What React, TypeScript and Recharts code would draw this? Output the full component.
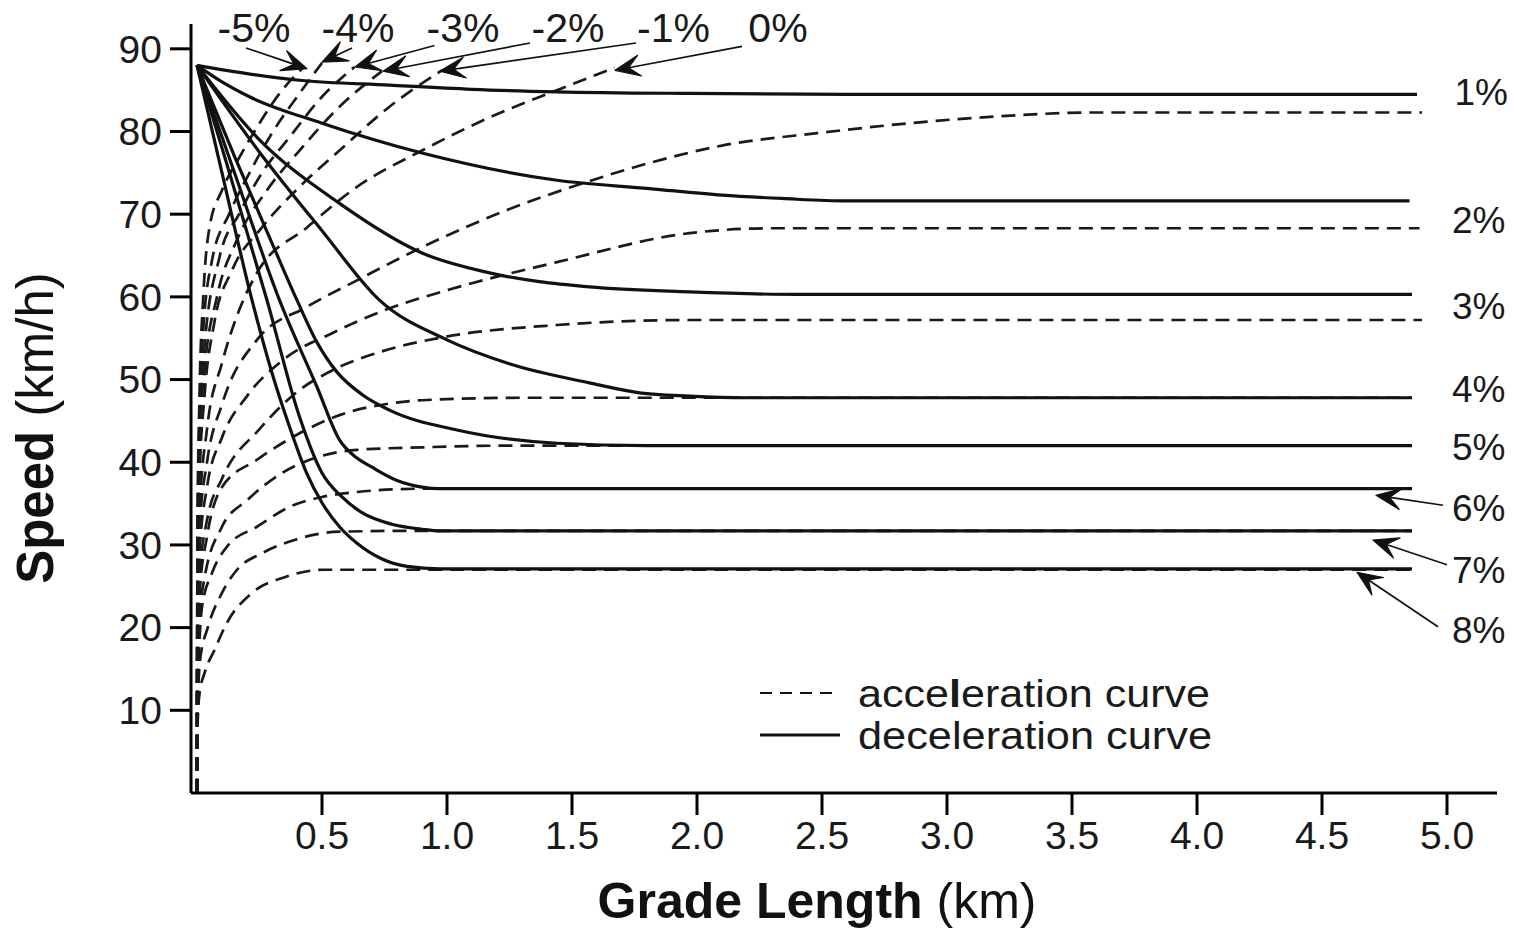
import React from 'react';
import { LineChart, Line, XAxis, YAxis, ReferenceLine, ReferenceDot, Legend } from 'recharts';

type P = [number, number];

// ---------- axis ticks ----------
const xTicks = [0.5, 1.0, 1.5, 2.0, 2.5, 3.0, 3.5, 4.0, 4.5, 5.0];
const yTicks = [10, 20, 30, 40, 50, 60, 70, 80, 90];

// ---------- deceleration curves (solid) [km, km/h] ----------
const decel1: P[] = [[0, 88], [0.2, 87], [0.41, 86.2], [0.77, 85.6], [1.1, 85.1], [1.44, 84.8], [1.97, 84.6], [2.6, 84.5], [4.88, 84.5]];
const decel2: P[] = [[0, 88], [0.1, 86], [0.21, 84.2], [0.5, 81], [0.9, 77.4], [1.44, 74.1], [1.81, 73.1], [2.1, 72.3], [2.34, 71.9], [2.6, 71.6], [4.85, 71.6]];
const decel3: P[] = [[0, 88], [0.24, 79.3], [0.57, 71.3], [0.9, 65.3], [1.17, 62.9], [1.57, 61.2], [1.97, 60.6], [2.4, 60.3], [4.86, 60.3]];
const decel4: P[] = [[0, 88], [0.25, 77.5], [0.5, 68], [0.73, 59.6], [1.0, 54.8], [1.24, 52.0], [1.57, 49.6], [1.77, 48.4], [1.97, 48.0], [2.2, 47.8], [4.86, 47.8]];
const decel5: P[] = [[0, 88], [0.15, 77], [0.3, 66.5], [0.4, 59.6], [0.48, 54.5], [0.56, 50.9], [0.66, 48.2], [0.77, 46.3], [1.04, 43.9], [1.44, 42.3], [1.8, 42.0], [4.86, 42.0]];
const decel6: P[] = [[0, 88], [0.15, 75], [0.33, 59.6], [0.48, 49.1], [0.57, 42.7], [0.64, 40.5], [0.7, 39.4], [0.8, 37.8], [0.9, 37.0], [0.97, 36.8], [4.86, 36.8]];
const decel7: P[] = [[0, 88], [0.12, 76], [0.28, 59.6], [0.41, 45.5], [0.5, 38.7], [0.58, 35.8], [0.66, 33.9], [0.78, 32.5], [0.9, 31.9], [0.97, 31.7], [4.86, 31.7]];
const decel8: P[] = [[0, 88], [0.1, 75], [0.22, 59.6], [0.3, 50.8], [0.37, 44.3], [0.44, 38.6], [0.5, 35.1], [0.57, 32.2], [0.64, 30.2], [0.74, 28.3], [0.84, 27.4], [0.97, 27.1], [4.86, 27.1]];

// ---------- acceleration curves (dashed) [km, km/h] ----------
const accM5: P[] = [[0, 0], [0.002, 32], [0.01, 48], [0.025, 60], [0.05, 68.4], [0.1, 72.9], [0.17, 76.9], [0.25, 81], [0.33, 84.6], [0.43, 87.9]];
const accM4: P[] = [[0, 0], [0.002, 30], [0.01, 45], [0.025, 56], [0.06, 64.4], [0.13, 70.1], [0.21, 75], [0.3, 79.8], [0.41, 84.6], [0.5, 88.3]];
const accM3: P[] = [[0, 0], [0.002, 28], [0.01, 42], [0.03, 54], [0.09, 64.8], [0.17, 70.1], [0.26, 75], [0.37, 79.3], [0.5, 84.2], [0.63, 87.8]];
const accM2: P[] = [[0, 0], [0.002, 27], [0.01, 40], [0.03, 51], [0.08, 60], [0.16, 66.9], [0.28, 72.9], [0.41, 77.7], [0.57, 83], [0.74, 87.3]];
const accM1: P[] = [[0, 0], [0.002, 25], [0.01, 38], [0.03, 48], [0.07, 57], [0.14, 63.2], [0.26, 68.4], [0.41, 73.3], [0.57, 77.7], [0.77, 83], [0.98, 87.4]];
const acc0: P[] = [[0, 0], [0.002, 24], [0.01, 34], [0.04, 44], [0.1, 52], [0.17, 58.5], [0.24, 62.9], [0.44, 68.4], [0.64, 73.3], [0.9, 77.7], [1.17, 81.7], [1.44, 85.0], [1.67, 87.7]];
const acc1: P[] = [[0, 0], [0.002, 22], [0.01, 32], [0.04, 40], [0.1, 47], [0.24, 54.8], [0.44, 58.8], [0.64, 62], [0.9, 66], [1.24, 70.5], [1.57, 74], [1.81, 76.2], [2.1, 78.3], [2.48, 79.8], [3.14, 81.7], [3.6, 82.3], [4.9, 82.3]];
const acc2: P[] = [[0, 0], [0.002, 20], [0.01, 29], [0.04, 37], [0.1, 43], [0.2, 48], [0.35, 52.5], [0.54, 55.6], [0.76, 58.5], [1.0, 60.8], [1.44, 64.2], [1.97, 67.7], [2.3, 68.3], [4.89, 68.3]];
const acc3: P[] = [[0, 0], [0.002, 18], [0.01, 26], [0.04, 33], [0.1, 38], [0.25, 44], [0.4, 48.5], [0.54, 51.1], [0.75, 53.5], [0.98, 55.1], [1.44, 56.6], [1.97, 57.2], [4.9, 57.2]];
const acc4: P[] = [[0, 0], [0.002, 16], [0.01, 24], [0.04, 31], [0.1, 37], [0.24, 40.3], [0.41, 43.5], [0.57, 45.7], [0.77, 47.1], [0.9, 47.5], [1.3, 47.8], [4.86, 47.8]];
const acc5: P[] = [[0, 0], [0.002, 14], [0.01, 21], [0.03, 26], [0.1, 32.2], [0.2, 35.4], [0.34, 38.7], [0.48, 40.6], [0.64, 41.5], [0.9, 41.8], [1.2, 42.0], [4.86, 42.0]];
const acc6: P[] = [[0, 0], [0.002, 12], [0.01, 18.5], [0.02, 22.5], [0.06, 26.6], [0.12, 29.8], [0.24, 32.2], [0.37, 34.6], [0.5, 35.8], [0.64, 36.4], [0.9, 36.8], [4.86, 36.8]];
const acc7: P[] = [[0, 0], [0.002, 9], [0.012, 16], [0.044, 20.1], [0.1, 24.2], [0.16, 27.0], [0.26, 29.0], [0.39, 30.6], [0.57, 31.6], [0.84, 31.7], [4.86, 31.7]];
const acc8: P[] = [[0, 0], [0.002, 8], [0.01, 12], [0.03, 14.5], [0.07, 17.3], [0.12, 20.6], [0.22, 24.2], [0.35, 26.1], [0.51, 27.0], [4.86, 27.0]];

const decelSeries: P[][] = [decel1, decel2, decel3, decel4, decel5, decel6, decel7, decel8];
const accelSeries: P[][] = [accM5, accM4, accM3, accM2, accM1, acc0, acc1, acc2, acc3, acc4, acc5, acc6, acc7, acc8];

// ---------- grade labels ----------
const topGradeLabels = ['-5%', '-4%', '-3%', '-2%', '-1%', '0%'];
const rightGradeLabels = ['1%', '2%', '3%', '4%', '5%', '6%', '7%', '8%'];

// annotation anchors in data units (label baseline / arrow tail / arrow tip)
const topLabelAnchors: P[] = [[0.228, 90.8], [0.644, 90.8], [1.064, 90.8], [1.484, 90.8], [1.906, 90.8], [2.324, 90.8]];
const topArrows: [P, P][] = [
  [[0.196, 90.1], [0.44, 87.6]],
  [[0.62, 90.1], [0.5, 88.4]],
  [[0.95, 90.4], [0.632, 87.8]],
  [[1.332, 90.7], [0.744, 87.3]],
  [[1.756, 90.7], [0.972, 87.3]],
  [[2.18, 90.3], [1.672, 87.4]],
];
const rightLabelAnchors: P[] = [[5.03, 83.2], [5.02, 67.7], [5.02, 57.3], [5.02, 47.3], [5.02, 40.3], [5.02, 32.9], [5.02, 25.4], [5.02, 18.1]];
const rightArrows: [P, P][] = [
  [[4.984, 34.8], [4.716, 36.0]],
  [[5.0, 27.6], [4.704, 30.6]],
  [[4.964, 20.1], [4.64, 26.7]],
];

// ---------- layout ----------
const FONT = '"Liberation Sans", Arial, Helvetica, sans-serif';
const W = 1514;
const H = 928;
const PLOT = { left: 191, right: 1497, top: 24, bottom: 793 };
const Y_AXIS_W = 60;
const X_AXIS_H = 60;
const INK = '#111';

const toRows = (pts: P[]) => pts.map(([x, v]) => ({ x, v }));

const ArrowShape = (props: any) => {
  const { x1, y1, x2, y2 } = props;
  const dx = x2 - x1;
  const dy = y2 - y1;
  const len = Math.hypot(dx, dy) || 1;
  const ux = dx / len;
  const uy = dy / len;
  const nx = -uy;
  const ny = ux;
  const L = 25;
  const Wd = 10.5;
  const bx = x2 - ux * L;
  const by = y2 - uy * L;
  const pts = [
    [x2, y2],
    [bx + nx * Wd, by + ny * Wd],
    [x2 - ux * L * 0.55, y2 - uy * L * 0.55],
    [bx - nx * Wd, by - ny * Wd],
  ]
    .map((p) => p.join(','))
    .join(' ');
  return (
    <g>
      <line x1={x1} y1={y1} x2={x2 - ux * L * 0.5} y2={y2 - uy * L * 0.5} stroke={INK} strokeWidth={1.7} />
      <polygon points={pts} fill={INK} stroke={INK} strokeWidth={1.2} strokeLinejoin="round" />
    </g>
  );
};

const makeTextShape = (text: string, anchor: 'start' | 'middle', size: number) => (props: any) => (
  <text x={props.cx} y={props.cy} textAnchor={anchor} fontFamily={FONT} fontSize={size} fill="#1a1a1a">
    {text}
  </text>
);

const LegendContent = () => (
  <svg width={480} height={92} style={{ display: 'block', overflow: 'visible' }}>
    <line x1={8} y1={25} x2={83} y2={25} stroke={INK} strokeWidth={2} strokeDasharray="12 8" />
    <text x={106} y={25} dy="0.36em" fontFamily={FONT} fontSize={38} fill="#1a1a1a" textLength={352} lengthAdjust="spacingAndGlyphs">
      <tspan>acce</tspan>
      <tspan fontWeight="bold">l</tspan>
      <tspan>eration curve</tspan>
    </text>
    <line x1={8} y1={67} x2={88} y2={67} stroke={INK} strokeWidth={3} />
    <text x={106} y={67} dy="0.36em" fontFamily={FONT} fontSize={38} fill="#1a1a1a" textLength={354} lengthAdjust="spacingAndGlyphs">
      deceleration curve
    </text>
  </svg>
);

const XTitle = () => (
  <text x={817} y={918} textAnchor="middle" fontFamily={FONT} fontSize={50} fill="#111">
    <tspan fontWeight="bold">Grade Length</tspan>
    <tspan> (km)</tspan>
  </text>
);

const YTitle = () => (
  <text
    x={53}
    y={428}
    transform="rotate(-90 53 428)"
    textAnchor="middle"
    fontFamily={FONT}
    fontSize={51}
    fill="#111"
  >
    <tspan fontWeight="bold">Speed</tspan>
    <tspan> (km/h)</tspan>
  </text>
);

export default function App() {
  const tickStyle = { fontFamily: FONT, fontSize: 39, fill: '#1a1a1a' };
  return (
    <div style={{ position: 'absolute', left: 0, top: 0, width: W, height: H, background: '#fff' }}>
      <LineChart
        width={W}
        height={H}
        margin={{ top: PLOT.top, right: W - PLOT.right, bottom: H - PLOT.bottom - X_AXIS_H, left: PLOT.left - Y_AXIS_W }}
      >
        <XAxis
          type="number"
          dataKey="x"
          domain={[-0.024, 5.2]}
          allowDataOverflow
          ticks={xTicks}
          tickFormatter={(v: number) => v.toFixed(1)}
          height={X_AXIS_H}
          tickSize={22}
          tickMargin={6}
          tick={tickStyle}
          axisLine={{ stroke: '#000', strokeWidth: 3 }}
          tickLine={{ stroke: '#000', strokeWidth: 3 }}
          label={() => <XTitle />}
        />
        <YAxis
          type="number"
          dataKey="v"
          domain={[0, 93]}
          allowDataOverflow
          ticks={yTicks}
          width={Y_AXIS_W}
          tickSize={21}
          tickMargin={8}
          tick={tickStyle}
          axisLine={{ stroke: '#000', strokeWidth: 3 }}
          tickLine={{ stroke: '#000', strokeWidth: 3 }}
          label={() => <YTitle />}
        />
        {accelSeries.map((pts, i) => (
          <Line
            key={`acc-${i}`}
            data={toRows(pts)}
            dataKey="v"
            type="monotone"
            stroke="#1a1a1a"
            strokeWidth={2.7}
            strokeDasharray="14 8"
            dot={false}
            activeDot={false}
            isAnimationActive={false}
            legendType="none"
          />
        ))}
        {decelSeries.map((pts, i) => (
          <Line
            key={`dec-${i}`}
            data={toRows(pts)}
            dataKey="v"
            type="monotone"
            stroke={INK}
            strokeWidth={3.2}
            dot={false}
            activeDot={false}
            isAnimationActive={false}
            legendType="none"
          />
        ))}
        {topArrows.map(([a, b], i) => (
          <ReferenceLine key={`ta-${i}`} segment={[{ x: a[0], y: a[1] }, { x: b[0], y: b[1] }]} shape={ArrowShape} ifOverflow="visible" />
        ))}
        {rightArrows.map(([a, b], i) => (
          <ReferenceLine key={`ra-${i}`} segment={[{ x: a[0], y: a[1] }, { x: b[0], y: b[1] }]} shape={ArrowShape} ifOverflow="visible" />
        ))}
        {topGradeLabels.map((t, i) => (
          <ReferenceDot key={`tl-${i}`} x={topLabelAnchors[i][0]} y={topLabelAnchors[i][1]} ifOverflow="visible" shape={makeTextShape(t, 'middle', 41)} />
        ))}
        {rightGradeLabels.map((t, i) => (
          <ReferenceDot key={`rl-${i}`} x={rightLabelAnchors[i][0]} y={rightLabelAnchors[i][1]} ifOverflow="visible" shape={makeTextShape(t, 'start', 37)} />
        ))}
        <Legend
          layout="vertical"
          align="center"
          verticalAlign="middle"
          content={() => <LegendContent />}
          wrapperStyle={{ left: 752, top: 668, width: 480, height: 92 }}
        />
      </LineChart>
    </div>
  );
}
